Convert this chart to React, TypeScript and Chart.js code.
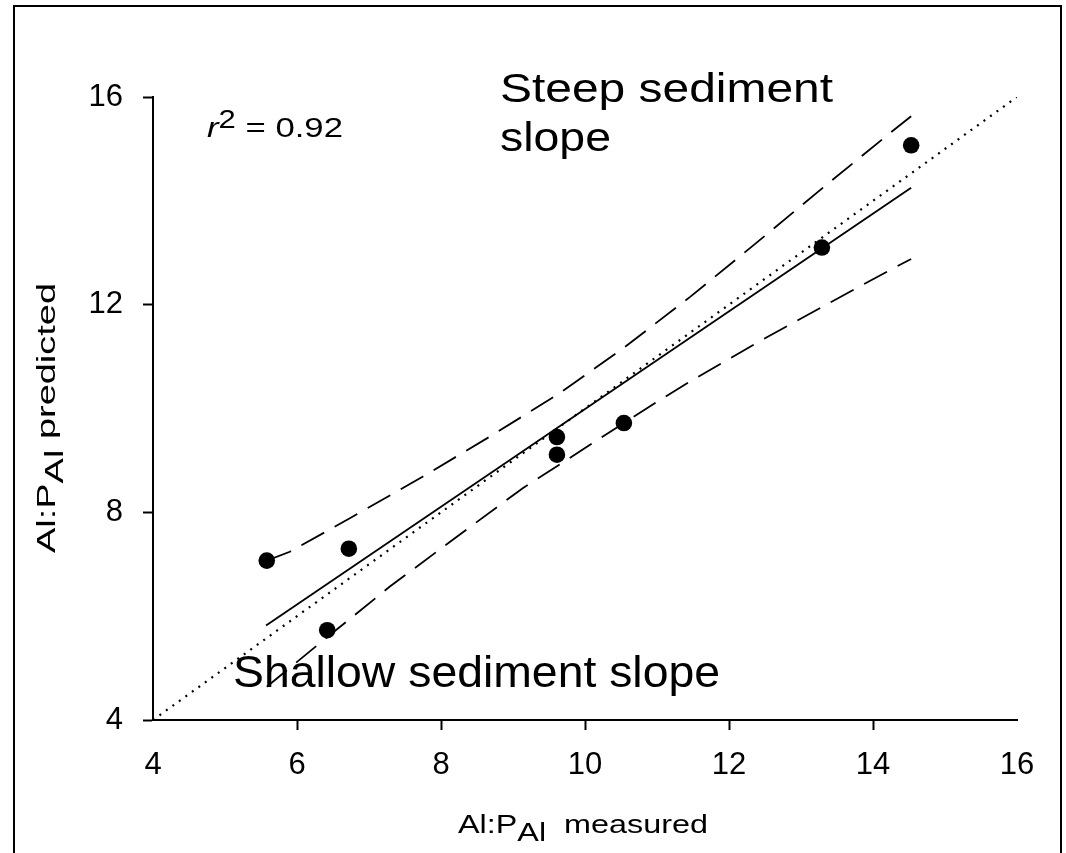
import React, { useEffect, useRef } from 'react';
import { Chart, registerables } from 'chart.js';

Chart.register(...registerables);

// Measured vs predicted Al:P_Al (data points)
const measuredX = [5.58, 6.72, 6.42, 9.61, 9.61, 10.54, 13.29, 14.53];
const predictedY = [7.07, 7.30, 5.73, 9.45, 9.11, 9.72, 13.10, 15.07];

// Regression line
const regressionX = [5.57, 14.53];
const regressionY = [5.82, 14.25];

// Upper 95% confidence band
const upperX = [5.58, 5.90, 6.74, 7.75, 8.68, 9.61, 10.53, 11.46, 12.38, 13.31, 14.24, 14.53];
const upperY = [7.07, 7.24, 7.89, 8.69, 9.46, 10.26, 11.16, 12.15, 13.19, 14.26, 15.31, 15.63];

// Lower 95% confidence band
const lowerX = [5.58, 6.37, 7.29, 8.22, 9.14, 10.07, 11.0, 11.46, 12.38, 13.31, 14.24, 14.53];
const lowerY = [4.64, 5.54, 6.57, 7.53, 8.47, 9.30, 10.13, 10.52, 11.26, 11.97, 12.67, 12.88];

// 1:1 line
const oneToOneX = [4, 16];
const oneToOneY = [4, 16];

// Axes
const xMin = 4, xMax = 16, xStep = 2;
const yMin = 4, yMax = 16, yStep = 4;
const xTicksWithoutMark = [4, 16];

const r2Label = '0.92';
const steepLines = ['Steep sediment', 'slope'];
const shallowLabel = 'Shallow sediment slope';

const FONT = "'Liberation Sans', Arial, Helvetica, sans-serif";

const zip = (xs: number[], ys: number[]) => xs.map((x, i) => ({ x, y: ys[i] }));

type Run = { text: string; font: string; dy?: number };

function drawRuns(ctx: CanvasRenderingContext2D, runs: Run[], x: number, y: number, targetWidth: number | null, rotate = false) {
  ctx.save();
  let natural = 0;
  for (const r of runs) {
    ctx.font = r.font;
    natural += ctx.measureText(r.text).width;
  }
  const s = targetWidth ? targetWidth / natural : 1;
  ctx.translate(x, y);
  if (rotate) ctx.rotate(-Math.PI / 2);
  ctx.scale(s, 1);
  ctx.fillStyle = '#000';
  ctx.textBaseline = 'alphabetic';
  ctx.textAlign = 'left';
  let cx = 0;
  for (const r of runs) {
    ctx.font = r.font;
    ctx.fillText(r.text, cx, r.dy || 0);
    cx += ctx.measureText(r.text).width;
  }
  ctx.restore();
}

const decorPlugin = {
  id: 'decor',
  afterDraw(chart: any) {
    const ctx: CanvasRenderingContext2D = chart.ctx;
    // outer frame
    ctx.save();
    ctx.strokeStyle = '#000';
    ctx.lineWidth = 2;
    ctx.beginPath();
    ctx.moveTo(14, 870);
    ctx.lineTo(14, 6);
    ctx.lineTo(1061, 6);
    ctx.lineTo(1061, 870);
    ctx.stroke();
    ctx.restore();

    const f = (size: number, italic = false) => `${italic ? 'italic ' : ''}${size}px ${FONT}`;

    // x axis title
    drawRuns(ctx, [
      { text: 'Al:P', font: f(26) },
      { text: 'Al', font: f(26), dy: 8 },
      { text: '  measured', font: f(26) },
    ], 458, 833, 250);

    // y axis title (rotated)
    drawRuns(ctx, [
      { text: 'Al:P', font: f(26) },
      { text: 'Al', font: f(26), dy: 8 },
      { text: ' predicted', font: f(26) },
    ], 55, 553, 270, true);

    // r^2
    drawRuns(ctx, [
      { text: 'r', font: f(28, true) },
      { text: '2', font: f(25), dy: -9 },
      { text: ' = ' + r2Label, font: f(28) },
    ], 207, 137, 136);

    // Steep sediment slope
    drawRuns(ctx, [{ text: steepLines[0], font: f(41) }], 500, 102, 333);
    drawRuns(ctx, [{ text: steepLines[1], font: f(41) }], 500, 151, 111);

    // Shallow sediment slope
    drawRuns(ctx, [{ text: shallowLabel, font: f(44) }], 233, 687, 487);
  },
};

export default function App() {
  const ref = useRef<HTMLCanvasElement | null>(null);

  useEffect(() => {
    if (!ref.current) return;
    const lineBase = { showLine: true, pointRadius: 0, pointHoverRadius: 0, fill: false, borderColor: '#000', tension: 0 };
    const chart = new Chart(ref.current, {
      type: 'scatter',
      data: {
        datasets: [
          {
            label: 'data',
            data: zip(measuredX, predictedY),
            pointRadius: 8.3,
            pointBackgroundColor: '#000',
            pointBorderColor: '#000',
            pointBorderWidth: 0,
            order: 0,
          },
          { label: 'regression', data: zip(regressionX, regressionY), ...lineBase, borderWidth: 1.8, order: 1 },
          { label: 'upper', data: zip(upperX, upperY), ...lineBase, borderWidth: 1.8, borderDash: [26, 12], order: 1 },
          { label: 'lower', data: zip(lowerX, lowerY), ...lineBase, borderWidth: 1.8, borderDash: [26, 12], order: 1 },
          { label: '1:1', data: zip(oneToOneX, oneToOneY), ...lineBase, borderWidth: 2.2, borderDash: [2, 6], order: 1 },
        ] as any,
      },
      options: {
        responsive: false,
        animation: false,
        events: [],
        layout: { padding: { top: 97, right: 49, left: 0, bottom: 0 } },
        plugins: { legend: { display: false }, tooltip: { enabled: false }, title: { display: false } },
        scales: {
          x: {
            type: 'linear',
            min: xMin,
            max: xMax,
            afterFit: (s: any) => { s.height = 133; },
            ticks: { stepSize: xStep, color: '#000', padding: 17, font: { family: FONT, size: 31 }, maxRotation: 0 },
            grid: {
              drawOnChartArea: false,
              drawTicks: true,
              tickLength: 10,
              tickWidth: 2,
              tickColor: (c: any) => (c.tick && xTicksWithoutMark.includes(c.tick.value) ? 'rgba(0,0,0,0)' : '#000'),
            },
            border: { display: true, color: '#000', width: 2 },
          },
          y: {
            type: 'linear',
            min: yMin,
            max: yMax,
            afterFit: (s: any) => { s.width = 153; },
            ticks: { stepSize: yStep, color: '#000', padding: 20, font: { family: FONT, size: 31 } },
            grid: { drawOnChartArea: false, drawTicks: true, tickLength: 10, tickWidth: 2, tickColor: '#000' },
            border: { display: true, color: '#000', width: 2 },
          },
        },
      } as any,
      plugins: [decorPlugin],
    });
    return () => chart.destroy();
  }, []);

  return (
    <div style={{ position: 'fixed', left: 0, top: 0, width: 1066, height: 853, background: '#fff' }}>
      <canvas ref={ref} width={1066} height={853} style={{ display: 'block' }} />
    </div>
  );
}
